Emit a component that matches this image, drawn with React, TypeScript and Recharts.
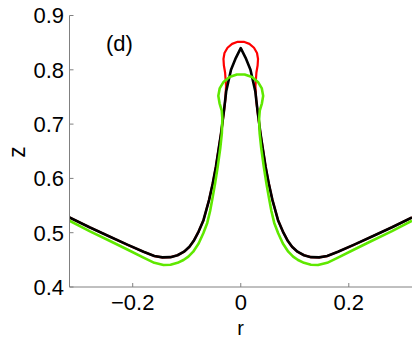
import React from 'react';
import { LineChart, Line, XAxis, YAxis } from 'recharts';

const xTicks = [-0.2, 0, 0.2];
const yTicks = [0.4, 0.5, 0.6, 0.7, 0.8, 0.9];

const blackR = [-0.317,-0.28,-0.242,-0.21,-0.18,-0.16,-0.145,-0.13,-0.117,-0.105,-0.095,-0.087,-0.078,-0.069,-0.0587,-0.052,-0.046,-0.0365,-0.031,-0.027,-0.018,-0.009,0,0.009,0.018,0.027,0.031,0.0365,0.046,0.052,0.0587,0.069,0.078,0.087,0.095,0.105,0.117,0.13,0.145,0.16,0.18,0.21,0.242,0.28,0.317];
const blackZ = [0.528,0.51,0.4926,0.478,0.465,0.457,0.4545,0.455,0.4585,0.465,0.474,0.485,0.502,0.523,0.56,0.59,0.6216,0.683,0.725,0.76,0.8,0.822,0.84,0.822,0.8,0.76,0.725,0.683,0.6216,0.59,0.56,0.523,0.502,0.485,0.474,0.465,0.4585,0.455,0.4545,0.457,0.465,0.478,0.4926,0.51,0.528];

const redR = [-0.317,-0.28,-0.242,-0.21,-0.18,-0.16,-0.145,-0.13,-0.117,-0.105,-0.095,-0.087,-0.078,-0.069,-0.0587,-0.052,-0.046,-0.0365,-0.0315,-0.0285,-0.0272,-0.029,-0.0312,-0.032,-0.0301,-0.0245,-0.016,-0.0056,0.0056,0.016,0.0245,0.0301,0.032,0.0312,0.029,0.0272,0.0285,0.0315,0.0365,0.046,0.052,0.0587,0.069,0.078,0.087,0.095,0.105,0.117,0.13,0.145,0.16,0.18,0.21,0.242,0.28,0.317];
const redZ = [0.528,0.51,0.4926,0.478,0.465,0.457,0.4545,0.455,0.4585,0.465,0.474,0.485,0.502,0.523,0.56,0.59,0.6216,0.683,0.72,0.745,0.77,0.795,0.808,0.82,0.8309,0.8406,0.8477,0.8515,0.8515,0.8477,0.8406,0.8309,0.82,0.808,0.795,0.77,0.745,0.72,0.683,0.6216,0.59,0.56,0.523,0.502,0.485,0.474,0.465,0.4585,0.455,0.4545,0.457,0.465,0.478,0.4926,0.51,0.528];

const greenR = [-0.317,-0.28,-0.242,-0.21,-0.18,-0.16,-0.143,-0.13,-0.117,-0.106,-0.097,-0.088,-0.078,-0.0693,-0.062,-0.0567,-0.0526,-0.0476,-0.0426,-0.038,-0.035,-0.034,-0.0352,-0.0392,-0.0415,-0.039,-0.0318,-0.0208,-0.0072,0.0072,0.0208,0.0318,0.039,0.0415,0.0392,0.0352,0.034,0.035,0.038,0.0426,0.0476,0.0526,0.0567,0.062,0.0693,0.078,0.088,0.097,0.106,0.117,0.13,0.143,0.16,0.18,0.21,0.242,0.28,0.317];
const greenZ = [0.522,0.503,0.4847,0.469,0.454,0.4445,0.4405,0.441,0.4445,0.4497,0.456,0.465,0.48,0.499,0.518,0.54,0.562,0.59,0.6216,0.655,0.683,0.71,0.725,0.7383,0.752,0.7657,0.7777,0.7866,0.7914,0.7914,0.7866,0.7777,0.7657,0.752,0.7383,0.725,0.71,0.683,0.655,0.6216,0.59,0.562,0.54,0.518,0.499,0.48,0.465,0.456,0.4497,0.4445,0.441,0.4405,0.4445,0.454,0.469,0.4847,0.503,0.522];

const zip = (rs: number[], zs: number[]) => rs.map((r, i) => ({ r, z: zs[i] }));
const blackData = zip(blackR, blackZ);
const redData = zip(redR, redZ);
const greenData = zip(greenR, greenZ);

const FONT = '"Liberation Sans", Arial, Helvetica, sans-serif';
const fmt = (v: number) => (v < 0 ? '\u2212' + String(-v) : String(v));

export default function App() {
  return (
    <div style={{ position: 'absolute', left: 0, top: 0, width: 415, height: 339, background: '#fff' }}>
      <LineChart width={415} height={339} margin={{ top: 15.5, right: 3, bottom: 0, left: 0 }}>
        <XAxis
          type="number"
          dataKey="r"
          domain={[-0.317, 0.317]}
          allowDataOverflow
          ticks={xTicks}
          tickFormatter={fmt}
          height={52}
          tickSize={-4}
          tickMargin={11.5}
          axisLine={{ stroke: '#808080' }}
          tickLine={{ stroke: '#808080' }}
          tick={{ fill: '#000', fontSize: 22, fontFamily: FONT }}
        />
        <YAxis
          type="number"
          dataKey="z"
          domain={[0.4, 0.9]}
          allowDataOverflow
          ticks={yTicks}
          tickFormatter={(v: number) => v.toFixed(1)}
          width={69.5}
          tickSize={-4}
          tickMargin={9.5}
          axisLine={{ stroke: '#808080' }}
          tickLine={{ stroke: '#808080' }}
          tick={{ fill: '#000', fontSize: 22, fontFamily: FONT }}
        />
        <Line data={redData} dataKey="z" type="linear" stroke="#ff0000" strokeWidth={2.2} dot={false} isAnimationActive={false} strokeLinejoin="round" />
        <Line data={blackData} dataKey="z" type="linear" stroke="#000000" strokeWidth={2.6} dot={false} isAnimationActive={false} strokeLinejoin="round" />
        <Line data={greenData} dataKey="z" type="linear" stroke="#5fe800" strokeWidth={2.6} dot={false} isAnimationActive={false} strokeLinejoin="round" />
        <text x={106} y={51} fontSize={22} fontFamily={FONT} fill="#000">(d)</text>
        <text x={240.7} y={334.5} fontSize={20} fontFamily={FONT} fill="#000" textAnchor="middle">r</text>
        <text x={25} y={152} fontSize={23} fontFamily={FONT} fill="#000" textAnchor="middle" transform="rotate(-90 25 152)">z</text>
      </LineChart>
    </div>
  );
}
